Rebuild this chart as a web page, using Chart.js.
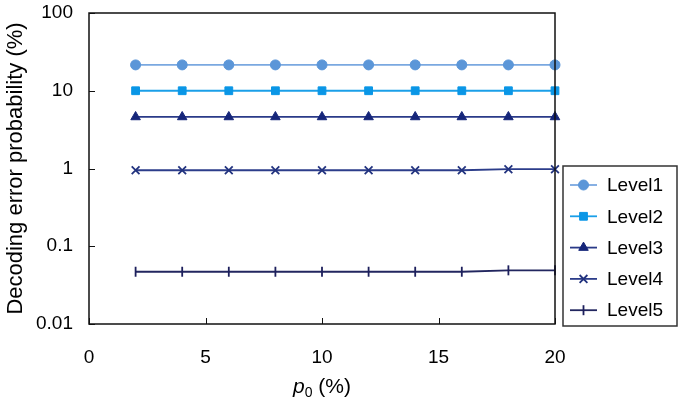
<!DOCTYPE html>
<html><head><meta charset="utf-8">
<script src="https://cdn.jsdelivr.net/npm/chart.js@4/dist/chart.umd.min.js"></script>
<style>html,body{margin:0;padding:0;background:#fff}#wrap{width:683px;height:406px}</style>
</head><body><div id="wrap"><canvas id="c" width="683" height="406"></canvas></div>
<script>
const p0 = [2, 4, 6, 8, 10, 12, 14, 16, 18, 20];
const level1 = [21.5, 21.5, 21.5, 21.5, 21.5, 21.5, 21.5, 21.5, 21.5, 21.5];
const level2 = [10, 10, 10, 10, 10, 10, 10, 10, 10, 10];
const level3 = [4.6, 4.6, 4.6, 4.6, 4.6, 4.6, 4.6, 4.6, 4.6, 4.6];
const level4 = [0.95, 0.95, 0.95, 0.95, 0.95, 0.95, 0.95, 0.95, 0.98, 0.98];
const level5 = [0.047, 0.047, 0.047, 0.047, 0.047, 0.047, 0.047, 0.047, 0.049, 0.049];
const seriesNames = ['Level1', 'Level2', 'Level3', 'Level4', 'Level5'];
const yTicks = [0.01, 0.1, 1, 10, 100];
const xTicks = [0, 5, 10, 15, 20];

const FONT = '"Liberation Sans", Arial, sans-serif';
const pts = arr => arr.map((v, i) => ({x: p0[i], y: v}));

function ds(label, data, color, lineColor, style, radius, rot) {
  return {label, data: pts(data), borderColor: lineColor, backgroundColor: color,
    pointBorderColor: color, pointBackgroundColor: color, pointStyle: style,
    pointRadius: radius, pointRotation: rot || 0, pointBorderWidth: (style === 'crossRot' || style === 'line') ? 1.8 : 1,
    borderWidth: 1.8, tension: 0, clip: false};
}

const datasets = [
  ds(seriesNames[0], level1, '#5b96d8', '#7aa8e0', 'circle', 5),
  ds(seriesNames[1], level2, '#0a96e6', '#1a9fe8', 'rect', 5.5),
  ds(seriesNames[2], level3, '#16267a', '#2a3a88', 'triangle', 5.5),
  ds(seriesNames[3], level4, '#22337f', '#2c3d8a', 'crossRot', 5.5),
  ds(seriesNames[4], level5, '#1c1f5c', '#22265f', 'line', 5, 90)
];

const frame = {
  id: 'frame',
  afterDraw(chart) {
    const ctx = chart.ctx, a = chart.chartArea;
    const xs = chart.scales.x, ys = chart.scales.y;
    ctx.save();
    ctx.strokeStyle = '#111';
    ctx.lineWidth = 1.5;
    ctx.strokeRect(a.left, a.top, a.right - a.left, a.bottom - a.top);
    ctx.lineWidth = 1;
    ctx.beginPath();
    yTicks.forEach(v => { const y = Math.round(ys.getPixelForValue(v)) + 0.5; ctx.moveTo(a.left, y); ctx.lineTo(a.left + 6, y); });
    xTicks.forEach(v => { const x = Math.round(xs.getPixelForValue(v)) + 0.5; ctx.moveTo(x, a.bottom); ctx.lineTo(x, a.bottom - 6); });
    ctx.stroke();
    // x title: p0 (%)
    ctx.fillStyle = '#000';
    ctx.textBaseline = 'alphabetic';
    const cx = (a.left + a.right) / 2;
    ctx.font = 'italic 21px ' + FONT;
    const wP = ctx.measureText('p').width;
    ctx.font = '14px ' + FONT;
    const w0 = ctx.measureText('0').width;
    ctx.font = '21px ' + FONT;
    const wR = ctx.measureText(' (%)').width;
    let x = cx - (wP + w0 + wR) / 2;
    const by = 393;
    ctx.font = 'italic 21px ' + FONT; ctx.textAlign = 'left';
    ctx.fillText('p', x, by); x += wP;
    ctx.font = '14px ' + FONT; ctx.fillText('0', x, by + 4); x += w0;
    ctx.font = '21px ' + FONT; ctx.fillText(' (%)', x, by);
    // legend
    const L = 563, T = 166, R = 677, B = 326;
    ctx.fillStyle = '#fff';
    ctx.fillRect(L, T, R - L, B - T);
    ctx.strokeStyle = '#333'; ctx.lineWidth = 1.5;
    ctx.strokeRect(L, T, R - L, B - T);
    chart.data.datasets.forEach((d, i) => {
      const y = 185 + i * 31.3;
      ctx.strokeStyle = d.borderColor; ctx.lineWidth = 1.8;
      ctx.beginPath(); ctx.moveTo(570, y); ctx.lineTo(597, y); ctx.stroke();
      ctx.fillStyle = d.pointBackgroundColor; ctx.strokeStyle = d.pointBorderColor; ctx.lineWidth = d.pointBorderWidth;
      Chart.helpers.drawPoint(ctx, {pointStyle: d.pointStyle, radius: d.pointRadius, rotation: d.pointRotation, borderWidth: d.pointBorderWidth}, 583.5, y);
      ctx.fillStyle = '#000'; ctx.font = '19px ' + FONT; ctx.textAlign = 'left'; ctx.textBaseline = 'middle';
      ctx.fillText(d.label, 607, y + 1);
    });
    ctx.restore();
  }
};

new Chart(document.getElementById('c'), {
  type: 'line',
  data: {datasets},
  options: {
    responsive: false, animation: false,
    layout: {padding: {left: 0, right: 128, top: 13, bottom: 0}},
    plugins: {legend: {display: false}, tooltip: {enabled: false}},
    scales: {
      x: {type: 'linear', min: 0, max: 20,
        afterBuildTicks: s => { s.ticks = xTicks.map(v => ({value: v})); },
        afterFit: s => { s.height = 82; s.paddingLeft = 0; s.paddingRight = 0; },
        grid: {display: false, drawTicks: false}, border: {display: false},
        ticks: {color: '#000', font: {family: FONT, size: 19}, padding: 22, maxRotation: 0}
      },
      y: {type: 'logarithmic', min: 0.01, max: 100,
        afterBuildTicks: s => { s.ticks = yTicks.map(v => ({value: v})); },
        afterFit: s => { s.width = 89; s.paddingTop = 0; s.paddingBottom = 0; },
        grid: {display: false, drawTicks: false}, border: {display: false},
        ticks: {color: '#000', font: {family: FONT, size: 19}, padding: 16,
          callback: v => String(v)},
        title: {display: true, text: 'Decoding error probability (%)', color: '#000', font: {family: FONT, size: 22}, padding: {top: 3, bottom: 0}}
      }
    }
  },
  plugins: [frame]
});
</script></body></html>
